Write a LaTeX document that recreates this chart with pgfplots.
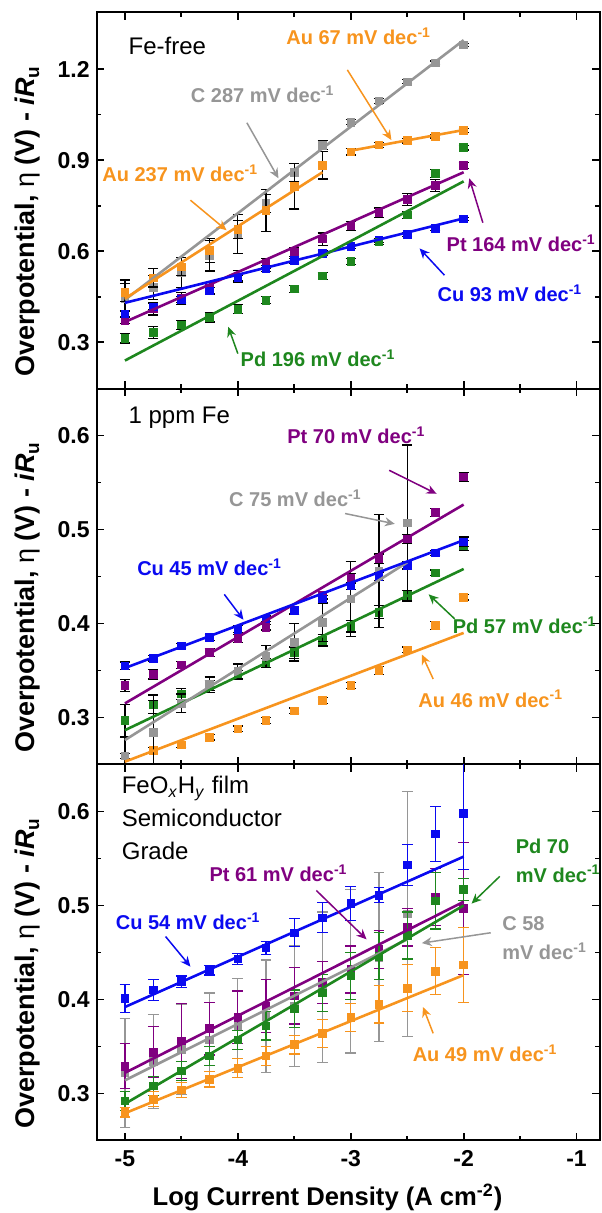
\documentclass[border=0pt]{standalone}
\usepackage{fontspec}
\setmainfont{Liberation Sans}
\usepackage{pgfplots}
\pgfplotsset{compat=1.18}
\usetikzlibrary{arrows.meta}

\definecolor{cAu}{RGB}{247,148,30}
\definecolor{cC}{RGB}{150,150,150}
\definecolor{cPt}{RGB}{128,0,128}
\definecolor{cPd}{RGB}{30,135,30}
\definecolor{cCu}{RGB}{10,10,240}

\pgfplotsset{
  panel/.style={
    scale only axis, width=251.5pt, height=188pt,
    xmin=-5.25, xmax=-0.795,
    xtick={-5,-4,-3,-2,-1}, minor x tick num=1, minor y tick num=1,
    tick align=inside, tick pos=both,
    major tick length=3.8pt, minor tick length=2.2pt,
    axis line style={line width=1pt},
    every tick/.style={black, line width=0.9pt},
    tick label style={font=\bfseries\fontsize{11.5}{13}\selectfont},
    xticklabel style={yshift=-1.6pt},
    /pgf/number format/assume math mode=true,
    yticklabel style={/pgf/number format/.cd, fixed, fixed zerofill, precision=1},
    ylabel={Overpotential, {\mdseries η} (V) - \textit{iR}\textsubscript{u}},
    ylabel style={font=\bfseries\fontsize{13.5}{15}\selectfont,
      at={(axis description cs:-0.1368,0.445)}, anchor=center},
    clip mode=individual,
  },
  pts/.style={only marks, mark=square*, mark size=1.9pt, color=#1,
    mark options={fill=#1, draw=#1},
    /pgfplots/error bars/y dir=both, /pgfplots/error bars/y explicit,
    /pgfplots/error bars/error bar style={black, line width=0.6pt},
    /pgfplots/error bars/error mark options={black, rotate=90, mark size=2.5pt, line width=0.6pt}},
  ptsc/.style={only marks, mark=square*, mark size=1.9pt, color=#1,
    mark options={fill=#1, draw=#1},
    /pgfplots/error bars/y dir=both, /pgfplots/error bars/y explicit,
    /pgfplots/error bars/error bar style={#1, line width=0.6pt},
    /pgfplots/error bars/error mark options={#1, rotate=90, mark size=2.7pt, line width=0.6pt}},
  fit/.style={no marks, color=#1, line width=1.3pt},
}
\tikzset{
  ann/.style={font=\bfseries\fontsize{10}{12}\selectfont, text=#1},
  arr/.style={#1, line width=0.75pt, -{Stealth[length=5pt, width=4.5pt]}},
}

\begin{document}
\begin{tikzpicture}
% ---------------- Fe-free ----------------
\begin{axis}[panel, name=p1, at={(0,0)}, anchor=north west,
  ymin=0.148, ymax=1.386, ytick={0.3,0.6,0.9,1.2}, xticklabels={}]
\addplot[pts=cC] coordinates {
 (-5,0.445) +- (0,0.06) (-4.75,0.481) +- (0,0.04) (-4.5,0.530) +- (0,0.05)
 (-4.25,0.585) +- (0,0.05) (-4,0.657) +- (0,0.064) (-3.75,0.757) +- (0,0.03)
 (-3.5,0.860) +- (0,0.03) (-3.25,0.949) +- (0,0.015) (-3,1.025) +- (0,0.008)
 (-2.75,1.095) +- (0,0.008) (-2.5,1.158) +- (0,0.007) (-2.25,1.220) +- (0,0.006)
 (-2,1.279) +- (0,0.006)};
\addplot[pts=cAu] coordinates {
 (-5,0.464) +- (0,0.03) (-4.75,0.512) +- (0,0.03) (-4.5,0.549) +- (0,0.03)
 (-4.25,0.602) +- (0,0.04) (-4,0.672) +- (0,0.03) (-3.75,0.734) +- (0,0.07)
 (-3.5,0.814) +- (0,0.075) (-3.25,0.883) +- (0,0.045)};
\addplot[pts=cAu] coordinates {
 (-3,0.927) +- (0,0.01) (-2.75,0.950) +- (0,0.008) (-2.5,0.964) +- (0,0.008)
 (-2.25,0.979) +- (0,0.006) (-2,0.997) +- (0,0.006)};
\addplot[pts=cPt] coordinates {
 (-5,0.372) +- (0,0.01) (-4.75,0.410) +- (0,0.02) (-4.5,0.444) +- (0,0.02)
 (-4.25,0.478) +- (0,0.02) (-4,0.516) +- (0,0.02) (-3.75,0.560) +- (0,0.015)
 (-3.5,0.598) +- (0,0.015) (-3.25,0.640) +- (0,0.02) (-3,0.684) +- (0,0.015)
 (-2.75,0.727) +- (0,0.015) (-2.5,0.771) +- (0,0.02) (-2.25,0.816) +- (0,0.02)
 (-2,0.882) +- (0,0.01)};
\addplot[pts=cCu] coordinates {
 (-5,0.393) +- (0,0.01) (-4.75,0.417) +- (0,0.01) (-4.5,0.441) +- (0,0.01)
 (-4.25,0.470) +- (0,0.01) (-4,0.512) +- (0,0.01) (-3.75,0.542) +- (0,0.01)
 (-3.5,0.569) +- (0,0.008) (-3.25,0.593) +- (0,0.008) (-3,0.615) +- (0,0.006)
 (-2.75,0.636) +- (0,0.006) (-2.5,0.655) +- (0,0.006) (-2.25,0.675) +- (0,0.006)
 (-2,0.706) +- (0,0.005)};
\addplot[pts=cPd] coordinates {
 (-5,0.313) +- (0,0.015) (-4.75,0.332) +- (0,0.02) (-4.5,0.358) +- (0,0.015)
 (-4.25,0.382) +- (0,0.015) (-4,0.409) +- (0,0.015) (-3.75,0.439) +- (0,0.012)
 (-3.5,0.476) +- (0,0.012) (-3.25,0.519) +- (0,0.012) (-3,0.567) +- (0,0.01)
 (-2.75,0.631) +- (0,0.01) (-2.5,0.719) +- (0,0.012) (-2.25,0.856) +- (0,0.012)
 (-2,0.941) +- (0,0.008)};
\addplot[fit=cC] coordinates {(-5,0.440) (-2,1.295)};
\addplot[fit=cAu] coordinates {(-5,0.444) (-3.25,0.860)};
\addplot[fit=cAu] coordinates {(-3,0.931) (-2,0.999)};
\addplot[fit=cPt] coordinates {(-5,0.367) (-2,0.860)};
\addplot[fit=cCu] coordinates {(-5,0.430) (-2,0.708)};
\addplot[fit=cPd] coordinates {(-5,0.240) (-2,0.830)};
\node[anchor=west, font=\fontsize{12}{14}\selectfont] at (axis cs:-5.03,1.276) {Fe-free};
\node[ann=cAu] at (axis cs:-2.93,1.307) {Au 67 mV dec\textsuperscript{-1}};
\draw[arr=cAu] (axis cs:-3.03,1.197) -- (axis cs:-2.64,0.966);
\node[ann=cC] at (axis cs:-3.78,1.117) {C 287 mV dec\textsuperscript{-1}};
\draw[arr=cC] (axis cs:-3.92,1.023) -- (axis cs:-3.64,0.840);
\node[ann=cAu] at (axis cs:-4.51,0.856) {Au 237 mV dec\textsuperscript{-1}};
\draw[arr=cAu] (axis cs:-4.42,0.768) -- (axis cs:-4.10,0.669);
\node[ann=cPt] at (axis cs:-1.49,0.626) {Pt 164 mV dec\textsuperscript{-1}};
\draw[arr=cPt] (axis cs:-1.83,0.694) -- (axis cs:-1.95,0.840);
\node[ann=cCu] at (axis cs:-1.59,0.461) {Cu 93 mV dec\textsuperscript{-1}};
\draw[arr=cCu] (axis cs:-2.17,0.521) -- (axis cs:-2.39,0.609);
\node[ann=cPd] at (axis cs:-3.29,0.247) {Pd 196 mV dec\textsuperscript{-1}};
\draw[arr=cPd] (axis cs:-4.00,0.263) -- (axis cs:-4.085,0.351);
\end{axis}

% ---------------- 1 ppm Fe ----------------
\begin{axis}[panel, name=p2, at={(p1.south west)}, anchor=north west,
  ymin=0.25, ymax=0.65, ytick={0.3,0.4,0.5,0.6}, xticklabels={}]
\addplot[pts=cAu] coordinates {
 (-5,0.259) +- (0,0.003) (-4.75,0.265) +- (0,0.003) (-4.5,0.271) +- (0,0.003)
 (-4.25,0.279) +- (0,0.003) (-4,0.288) +- (0,0.003) (-3.75,0.297) +- (0,0.003)
 (-3.5,0.307) +- (0,0.003) (-3.25,0.318) +- (0,0.003) (-3,0.334) +- (0,0.003)
 (-2.75,0.350) +- (0,0.004) (-2.5,0.372) +- (0,0.003) (-2.25,0.398) +- (0,0.004)
 (-2,0.428) +- (0,0.003)};
\addplot[pts=cPd] coordinates {
 (-5,0.297) +- (0,0.017) (-4.75,0.314) +- (0,0.01) (-4.5,0.325) +- (0,0.006)
 (-4.25,0.334) +- (0,0.005) (-4,0.345) +- (0,0.005) (-3.75,0.358) +- (0,0.005)
 (-3.5,0.369) +- (0,0.006) (-3.25,0.382) +- (0,0.006) (-3,0.397) +- (0,0.006)
 (-2.75,0.412) +- (0,0.007) (-2.5,0.430) +- (0,0.005) (-2.25,0.454) +- (0,0.003)
 (-2,0.483) +- (0,0.005)};
\addplot[pts=cC] coordinates {
 (-5,0.259) +- (0,0.02) (-4.75,0.284) +- (0,0.034) (-4.5,0.315) +- (0,0.01)
 (-4.25,0.335) +- (0,0.008) (-4,0.349) +- (0,0.008) (-3.75,0.365) +- (0,0.012)
 (-3.5,0.380) +- (0,0.02) (-3.25,0.401) +- (0,0.02) (-3,0.426) +- (0,0.04)
 (-2.75,0.456) +- (0,0.06) (-2.5,0.507) +- (0,0.083)};
\addplot[pts=cPt] coordinates {
 (-5,0.334) +- (0,0.006) (-4.75,0.346) +- (0,0.005) (-4.5,0.356) +- (0,0.004)
 (-4.25,0.369) +- (0,0.004) (-4,0.384) +- (0,0.004) (-3.75,0.396) +- (0,0.003)
 (-3.5,0.414) +- (0,0.004) (-3.25,0.430) +- (0,0.004) (-3,0.448) +- (0,0.005)
 (-2.75,0.469) +- (0,0.005) (-2.5,0.490) +- (0,0.005) (-2.25,0.518) +- (0,0.004)
 (-2,0.556) +- (0,0.005)};
\addplot[pts=cCu] coordinates {
 (-5,0.355) +- (0,0.004) (-4.75,0.363) +- (0,0.003) (-4.5,0.376) +- (0,0.003)
 (-4.25,0.385) +- (0,0.003) (-4,0.394) +- (0,0.004) (-3.75,0.405) +- (0,0.003)
 (-3.5,0.414) +- (0,0.004) (-3.25,0.426) +- (0,0.004) (-3,0.440) +- (0,0.004)
 (-2.75,0.450) +- (0,0.004) (-2.5,0.462) +- (0,0.004) (-2.25,0.475) +- (0,0.003)
 (-2,0.487) +- (0,0.005)};
\addplot[fit=cAu] coordinates {(-5,0.253) (-2,0.390)};
\addplot[fit=cPd] coordinates {(-5,0.2865) (-2,0.458)};
\addplot[fit=cC] coordinates {(-5,0.276) (-2.5,0.465)};
\addplot[fit=cPt] coordinates {(-5,0.315) (-2,0.5265)};
\addplot[fit=cCu] coordinates {(-5,0.3526) (-2,0.4886)};
\node[anchor=west, font=\fontsize{12}{14}\selectfont] at (axis cs:-5.03,0.619) {1 ppm Fe};
\node[ann=cPt] at (axis cs:-2.95,0.600) {Pt 70 mV dec\textsuperscript{-1}};
\draw[arr=cPt] (axis cs:-2.66,0.563) -- (axis cs:-2.24,0.538);
\node[ann=cC] at (axis cs:-3.49,0.533) {C 75 mV dec\textsuperscript{-1}};
\draw[arr=cC] (axis cs:-3.05,0.517) -- (axis cs:-2.61,0.506);
\node[ann=cCu] at (axis cs:-4.25,0.460) {Cu 45 mV dec\textsuperscript{-1}};
\draw[arr=cCu] (axis cs:-4.12,0.431) -- (axis cs:-3.95,0.404);
\node[ann=cPd] at (axis cs:-1.46,0.398) {Pd 57 mV dec\textsuperscript{-1}};
\draw[arr=cPd] (axis cs:-2.08,0.405) -- (axis cs:-2.31,0.431);
\node[ann=cAu] at (axis cs:-1.76,0.320) {Au 46 mV dec\textsuperscript{-1}};
\draw[arr=cAu] (axis cs:-2.27,0.341) -- (axis cs:-2.37,0.367);
\end{axis}

% ---------------- FeOxHy film ----------------
\begin{axis}[panel, name=p3, at={(p2.south west)}, anchor=north west,
  ymin=0.25, ymax=0.65, ytick={0.3,0.4,0.5,0.6},
  xlabel={Log Current Density (A cm\textsuperscript{-2})},
  xlabel style={font=\bfseries\fontsize{12.8}{14}\selectfont,
    at={(axis description cs:0.459,0)}, anchor=base, yshift=-32.5pt}]
\addplot[ptsc=cC] coordinates {
 (-5,0.322) +- (0,0.058) (-4.75,0.334) +- (0,0.05) (-4.5,0.347) +- (0,0.048)
 (-4.25,0.357) +- (0,0.05) (-4,0.372) +- (0,0.05) (-3.75,0.382) +- (0,0.06)
 (-3.5,0.393) +- (0,0.064) (-3.25,0.413) +- (0,0.08) (-3,0.430) +- (0,0.087)
 (-2.75,0.445) +- (0,0.09) (-2.5,0.491) +- (0,0.13)};
\addplot[ptsc=cPt] coordinates {
 (-5,0.329) +- (0,0.024) (-4.75,0.344) +- (0,0.027) (-4.5,0.356) +- (0,0.04)
 (-4.25,0.369) +- (0,0.028) (-4,0.381) +- (0,0.028) (-3.75,0.393) +- (0,0.028)
 (-3.5,0.404) +- (0,0.03) (-3.25,0.418) +- (0,0.022) (-3,0.432) +- (0,0.025)
 (-2.75,0.453) +- (0,0.02) (-2.5,0.477) +- (0,0.02) (-2.25,0.509) +- (0,0.03)
 (-2,0.497) +- (0,0.07)};
\addplot[ptsc=cPd] coordinates {
 (-5,0.292) +- (0,0.01) (-4.75,0.308) +- (0,0.01) (-4.5,0.324) +- (0,0.01)
 (-4.25,0.340) +- (0,0.01) (-4,0.357) +- (0,0.01) (-3.75,0.372) +- (0,0.015)
 (-3.5,0.390) +- (0,0.02) (-3.25,0.407) +- (0,0.02) (-3,0.425) +- (0,0.025)
 (-2.75,0.446) +- (0,0.025) (-2.5,0.468) +- (0,0.025) (-2.25,0.505) +- (0,0.03)
 (-2,0.517) +- (0,0.012)};
\addplot[ptsc=cAu] coordinates {
 (-5,0.280) +- (0,0.005) (-4.75,0.294) +- (0,0.008) (-4.5,0.304) +- (0,0.008)
 (-4.25,0.315) +- (0,0.008) (-4,0.327) +- (0,0.01) (-3.75,0.340) +- (0,0.01)
 (-3.5,0.352) +- (0,0.01) (-3.25,0.364) +- (0,0.015) (-3,0.381) +- (0,0.015)
 (-2.75,0.395) +- (0,0.02) (-2.5,0.412) +- (0,0.025) (-2.25,0.430) +- (0,0.025)
 (-2,0.437) +- (0,0.04)};
\addplot[ptsc=cCu] coordinates {
 (-5,0.401) +- (0,0.015) (-4.75,0.410) +- (0,0.011) (-4.5,0.419) +- (0,0.006)
 (-4.25,0.431) +- (0,0.005) (-4,0.443) +- (0,0.006) (-3.75,0.455) +- (0,0.007)
 (-3.5,0.471) +- (0,0.015) (-3.25,0.487) +- (0,0.016) (-3,0.502) +- (0,0.018)
 (-2.75,0.511) +- (0,0.008) (-2.5,0.543) +- (0,0.022) (-2.25,0.576) +- (0,0.029)
 (-2,0.598) +- (0,0.06)};
\addplot[fit=cC] coordinates {(-5,0.314) (-2.5,0.464)};
\addplot[fit=cPt] coordinates {(-5,0.322) (-2,0.504)};
\addplot[fit=cPd] coordinates {(-5,0.289) (-2,0.500)};
\addplot[fit=cAu] coordinates {(-5,0.279) (-2,0.426)};
\addplot[fit=cCu] coordinates {(-5,0.392) (-2,0.552)};
\node[anchor=north west, align=left, font=\fontsize{12}{16.5}\selectfont]
  at (axis cs:-5.09,0.645) {FeO\textsubscript{\textit{x}}H\textsubscript{\textit{y}} film\\Semiconductor\\Grade};
\node[ann=cPt] at (axis cs:-3.64,0.534) {Pt 61 mV dec\textsuperscript{-1}};
\draw[arr=cPt] (axis cs:-3.305,0.516) -- (axis cs:-2.86,0.464);
\node[ann=cCu] at (axis cs:-4.44,0.483) {Cu 54 mV dec\textsuperscript{-1}};
\draw[arr=cCu] (axis cs:-4.64,0.467) -- (axis cs:-4.42,0.435);
\node[ann=cPd, anchor=west, align=left, font=\bfseries\fontsize{10}{14.5}\selectfont]
  at (axis cs:-1.60,0.548) {Pd 70\\mV dec\textsuperscript{-1}};
\draw[arr=cPd] (axis cs:-1.68,0.531) -- (axis cs:-1.93,0.502);
\node[ann=cC, anchor=west, align=left, font=\bfseries\fontsize{10}{14.5}\selectfont]
  at (axis cs:-1.72,0.465) {C 58\\mV dec\textsuperscript{-1}};
\draw[arr=cC] (axis cs:-1.76,0.471) -- (axis cs:-2.37,0.460);
\node[ann=cAu] at (axis cs:-1.81,0.343) {Au 49 mV dec\textsuperscript{-1}};
\draw[arr=cAu] (axis cs:-2.27,0.364) -- (axis cs:-2.36,0.392);
\end{axis}

\pgfresetboundingbox
\path[use as bounding box] (-48.35pt,6.25pt) rectangle (252.15pt,-600.25pt);
\end{tikzpicture}
\end{document}
